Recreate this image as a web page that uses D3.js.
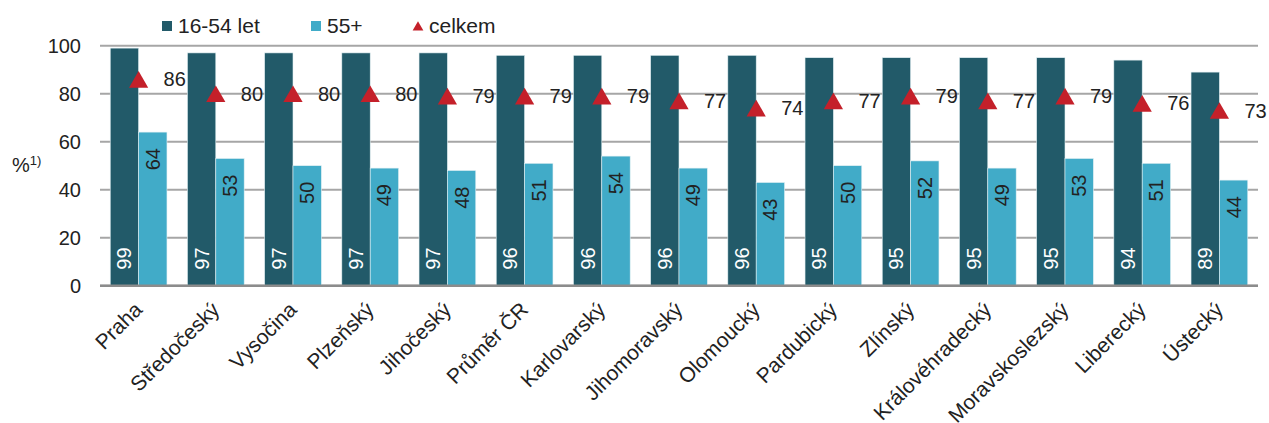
<!DOCTYPE html>
<meta charset="utf-8">
<style>
body { margin: 0; background: #fff; }
text { font-family: "Liberation Sans", Arial, sans-serif; fill: #222; }
.grid line { stroke: #a6a6a6; stroke-width: 2; }
</style>
<svg width="1269" height="423"></svg>
<script src="https://d3js.org/d3.v7.min.js"></script>
<script>

var regions = ["Praha", "Středočeský", "Vysočina", "Plzeňský", "Jihočeský", "Průměr ČR",
  "Karlovarský", "Jihomoravský", "Olomoucký", "Pardubický", "Zlínský",
  "Královéhradecký", "Moravskoslezský", "Liberecký", "Ústecký"];
var young = [99, 97, 97, 97, 97, 96, 96, 96, 96, 95, 95, 95, 95, 94, 89];
var older = [64, 53, 50, 49, 48, 51, 54, 49, 43, 50, 52, 49, 53, 51, 44];
var total = [86, 80, 80, 80, 79, 79, 79, 77, 74, 77, 79, 77, 79, 76, 73];
var yTicks = [0, 20, 40, 60, 80, 100];
var seriesNames = ["16-54 let", "55+", "celkem"];

var dark = "#225a69", light = "#41abc8", red = "#c4202a";

var svg = d3.select("svg");

var x = d3.scaleBand()
    .domain(regions)
    .range([100, 1258])
    .paddingInner(0.265)
    .paddingOuter(0.1325);

var sub = d3.scaleBand()
    .domain([0, 1])
    .range([0, x.bandwidth()]);

var y = d3.scaleLinear()
    .domain([0, 100])
    .range([285.7, 45.7]);

// gridlines
svg.append("g").attr("class", "grid")
  .selectAll("line")
  .data(yTicks)
  .enter().append("line")
    .attr("x1", 100).attr("x2", 1258)
    .attr("y1", function(d) { return y(d); })
    .attr("y2", function(d) { return y(d); });

svg.append("g")
  .selectAll("text")
  .data(yTicks)
  .enter().append("text")
    .attr("x", 81)
    .attr("y", function(d) { return y(d); })
    .attr("dy", "0.35em")
    .attr("text-anchor", "end")
    .style("font-size", "20px")
    .text(function(d) { return d; });

var ylab = svg.append("text")
    .attr("x", 12)
    .attr("y", 172)
    .style("font-size", "20px");
ylab.append("tspan").text("%");
ylab.append("tspan").attr("dy", -7).style("font-size", "13px").text("1)");

var data = regions.map(function(r, i) {
  return {region: r, young: young[i], older: older[i], total: total[i]};
});

var g = svg.append("g")
  .selectAll("g")
  .data(data)
  .enter().append("g")
    .attr("transform", function(d) { return "translate(" + x(d.region) + ",0)"; });

g.append("rect")
    .attr("x", sub(0))
    .attr("width", sub.bandwidth())
    .attr("y", function(d) { return y(d.young); })
    .attr("height", function(d) { return y(0) - y(d.young); })
    .attr("fill", dark)
    .attr("stroke", "#e3f0f3").attr("stroke-width", 0.6);

g.append("rect")
    .attr("x", sub(1))
    .attr("width", sub.bandwidth())
    .attr("y", function(d) { return y(d.older); })
    .attr("height", function(d) { return y(0) - y(d.older); })
    .attr("fill", light)
    .attr("stroke", "#e3f0f3").attr("stroke-width", 0.6);

// labels inside bars
g.append("text")
    .attr("transform", function(d) {
      return "translate(" + (sub(0) + sub.bandwidth() / 2) + "," + (y(0) - 16) + ") rotate(-90)";
    })
    .attr("dy", "0.35em")
    .style("font-size", "20px")
    .style("fill", "#fff")
    .text(function(d) { return d.young; });

g.append("text")
    .attr("transform", function(d) {
      return "translate(" + (sub(1) + sub.bandwidth() / 2) + "," + (y(d.older) + 16) + ") rotate(-90)";
    })
    .attr("dy", "0.35em")
    .attr("text-anchor", "end")
    .style("font-size", "20px")
    .text(function(d) { return d.older; });

// triangles
var tri = d3.symbol().type(d3.symbolTriangle).size(160);
g.append("path")
    .attr("d", tri)
    .attr("fill", red)
    .attr("transform", function(d) {
      return "translate(" + x.bandwidth() / 2 + "," + (y(d.total) + 2.8) + ")";
    });

g.append("text")
    .attr("x", x.bandwidth() / 2 + 25)
    .attr("y", function(d) { return y(d.total); })
    .attr("dy", "0.35em")
    .style("font-size", "20px")
    .text(function(d) { return d.total; });

// baseline
svg.append("line")
    .attr("x1", 100).attr("x2", 1258)
    .attr("y1", y(0)).attr("y2", y(0))
    .attr("stroke", "#8c8c8c").attr("stroke-width", 2.5);

// x labels
svg.append("g")
  .selectAll("text")
  .data(regions)
  .enter().append("text")
    .attr("transform", function(d) {
      return "translate(" + (x(d) + x.bandwidth() / 2 + 5) + ",311) rotate(-45)";
    })
    .attr("text-anchor", "end")
    .style("font-size", "21px")
    .text(function(d) { return d; });

// legend
var legend = svg.append("g").attr("transform", "translate(0,26)");
var lx = [162, 311, 413];
legend.append("rect").attr("x", lx[0]).attr("y", -5).attr("width", 10).attr("height", 10).attr("fill", dark);
legend.append("rect").attr("x", lx[1]).attr("y", -5).attr("width", 10).attr("height", 10).attr("fill", light);
legend.append("path")
    .attr("d", d3.symbol().type(d3.symbolTriangle).size(50))
    .attr("transform", "translate(" + (lx[2] + 5) + ",1.5)")
    .attr("fill", red);
legend.selectAll("text.leg")
  .data(seriesNames)
  .enter().append("text")
    .attr("class", "leg")
    .attr("x", function(d, i) { return lx[i] + 16; })
    .attr("dy", "0.35em")
    .style("font-size", "21px")
    .text(function(d) { return d; });

</script>
